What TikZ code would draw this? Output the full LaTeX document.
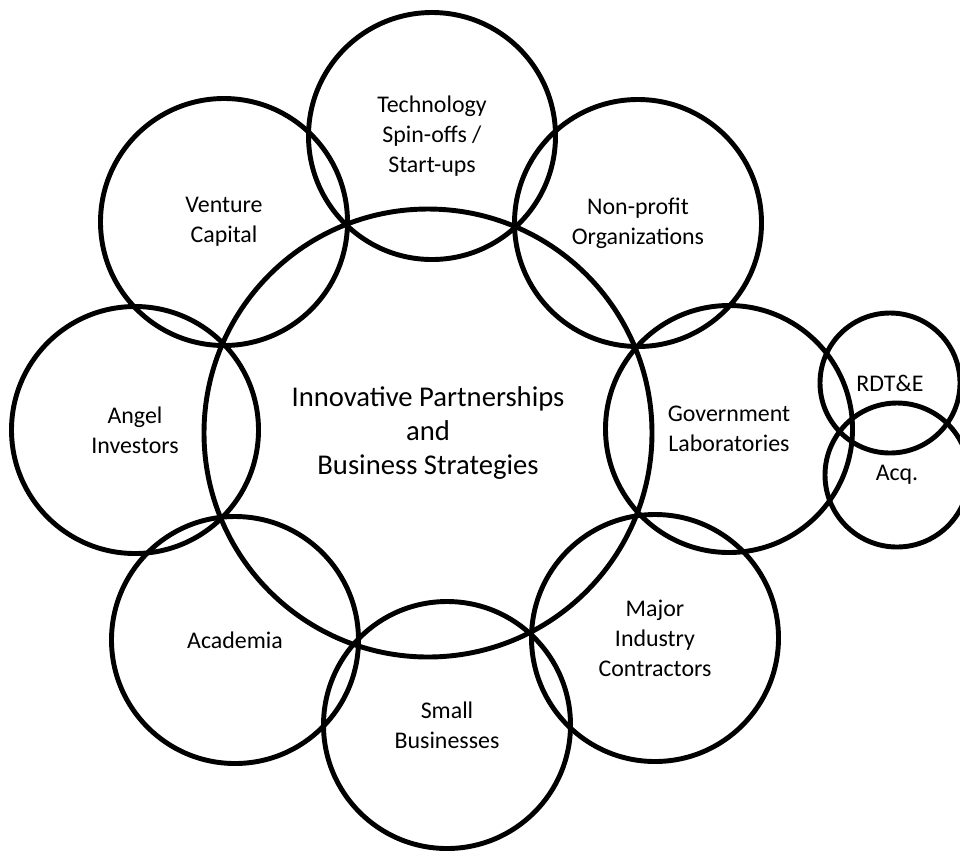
\documentclass[tikz,border=0pt]{standalone}
\usepackage{fontspec}
\setmainfont{Carlito}

\begin{document}
\begin{tikzpicture}[
  ring/.style={circle, draw, line width=2.8pt, minimum size=4.94cm,
               inner sep=0pt, align=center,
               font=\fontsize{13.6}{17}\selectfont},
  hub/.style={circle, draw, line width=2.8pt, minimum size=8.96cm,
              inner sep=0pt, align=center,
              font=\fontsize{16.3}{19.4}\selectfont},
  subring/.style={ring, minimum size=2.80cm}
]
\useasboundingbox (0,0) rectangle (19.2,-17.02);
\node[hub] (core) at (8.56,-8.66)
  {Innovative Partnerships\\and\\Business Strategies};
\node[ring] (tech)  at (8.64,-2.72)  {Technology\\Spin-offs /\\Start-ups};
\node[ring] (npo)   at (12.76,-4.46) {Non-profit\\Organizations};
\node[ring] (gov)   at (14.58,-8.58) {Government\\Laboratories};
\node[ring] (major) at (13.10,-12.76) {Major\\Industry\\Contractors};
\node[ring] (sbiz)  at (8.94,-14.50) {Small\\Businesses};
\node[ring] (acad)  at (4.70,-12.80) {Academia};
\node[ring] (angel) at (2.70,-8.60)  {Angel\\Investors};
\node[ring] (vc)    at (4.48,-4.44)  {Venture\\Capital};
\node[subring] (rdte) at (17.80,-7.66) {RDT\&E};
\node[subring, minimum size=2.88cm] (acq) at (17.94,-9.50) {Acq.};
\end{tikzpicture}
\end{document}
